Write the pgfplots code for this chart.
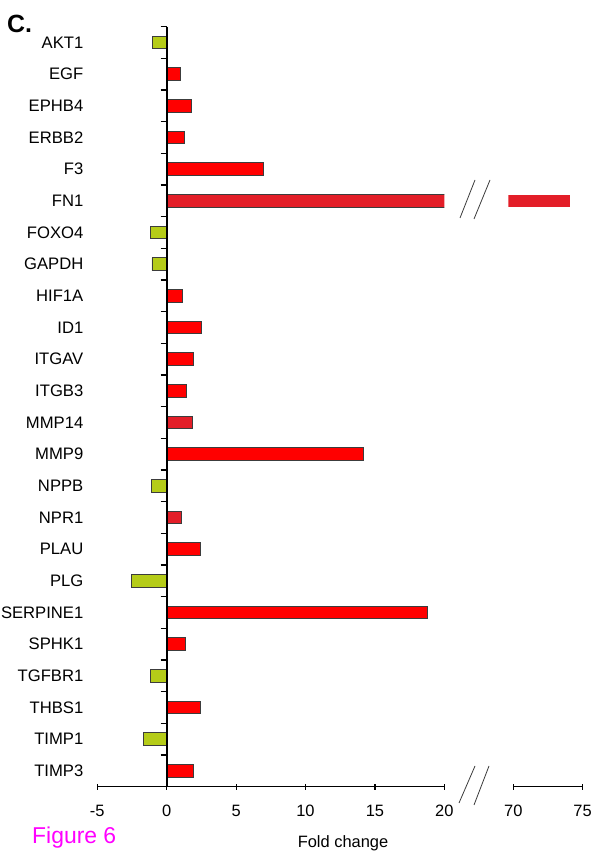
\documentclass[border=0pt]{standalone}
\usepackage{fontspec}
\setmainfont{Liberation Sans}
\usepackage{pgfplots}
\pgfplotsset{compat=1.18}

\definecolor{barred}{RGB}{255,0,0}
\definecolor{bardark}{RGB}{227,30,40}
\definecolor{bargreen}{RGB}{181,204,24}
\definecolor{edge}{RGB}{60,60,60}
\definecolor{figmag}{RGB}{255,0,255}

% genes top to bottom: 0 = AKT1 ... 23 = TIMP3
\pgfplotstableread{
x y
1.0 1
1.8 2
1.27 3
7.0 4
1.17 8
2.47 9
1.92 10
1.44 11
14.2 13
2.42 16
18.8 18
1.37 19
2.4 21
1.96 23
}\upred
\pgfplotstableread{
x y
74.1 5
1.85 12
1.06 15
}\updark
\pgfplotstableread{
x y
-1.04 0
-1.2 6
-1.06 7
-1.1 14
-2.54 17
-1.2 20
-1.68 22
}\down

\begin{document}
\begin{tikzpicture}
\useasboundingbox (-97.3bp,-67.3bp) rectangle (500.7bp,786.7bp);
\pgfplotsset{
  common/.style={
    scale only axis, height=760bp,
    ymin=-0.5, ymax=23.5, y dir=reverse,
    xbar, bar width=12.7bp, bar shift=0pt,
    /pgf/number format/assume math mode=true,
    tick align=outside, major tick length=6bp,
    every tick/.style={black, line width=1.2bp},
    tick label style={font=\fontsize{16.5}{18}\selectfont},
  },
}
\begin{axis}[common,
  name=main,
  width=347bp,
  xmin=-5, xmax=20,
  axis x line=bottom, axis y line=left,
  x axis line style={-, line width=1.3bp},
  y axis line style={draw=none},
  xtick={-5,0,5,10,15,20},
  xticklabel style={yshift=-12bp},
  ytick={0,...,23},
  ytick style={draw=none},
  yticklabels={AKT1,EGF,EPHB4,ERBB2,F3,FN1,FOXO4,GAPDH,HIF1A,ID1,ITGAV,ITGB3,MMP14,MMP9,NPPB,NPR1,PLAU,PLG,SERPINE1,SPHK1,TGFBR1,THBS1,TIMP1,TIMP3},
  yticklabel style={font=\fontsize{16.7}{19}\selectfont, inner sep=0pt, xshift=-10.8bp},
]
\addplot[fill=barred, draw=edge, line width=0.9bp] table {\upred};
\addplot[fill=bardark, draw=edge, line width=0.9bp] table {\updark};
\addplot[fill=bargreen, draw=edge, line width=0.9bp] table {\down};
\end{axis}

% y axis line at zero with ticks between genes
\begin{axis}[
  at={(69.4bp,0)}, scale only axis, width=10bp, height=760bp,
  xmin=0, xmax=1, ymin=-0.5, ymax=23.5, y dir=reverse,
  axis x line=none, axis y line=left,
  y axis line style={-, line width=2bp},
  ytick={-0.5,0.5,...,23.5}, yticklabels={},
  tick align=outside, major tick length=6bp,
  every tick/.style={black, line width=1.3bp},
]
\end{axis}

% right segment after the break
\begin{axis}[common,
  at={(411.1bp,0)},
  width=74.2bp,
  xmin=69.65, xmax=75,
  axis x line=bottom, axis y line=none,
  x axis line style={-, line width=1.3bp, shorten <=4.9bp},
  xtick={70,75},
  xticklabel style={yshift=-12bp},
  ytick=\empty,
]
\addplot[fill=bardark, draw=none] coordinates {(74.1,5)};
\end{axis}

% break marks
\draw[edge, line width=0.8bp] (361.7bp,-16.3bp) -- (377.7bp,20.7bp);
\draw[edge, line width=0.8bp] (376.7bp,-18.3bp) -- (391.7bp,20.7bp);
\draw[edge, line width=0.8bp] (362.7bp,568.7bp) -- (377.7bp,606.7bp);
\draw[edge, line width=0.8bp] (376.7bp,567.7bp) -- (392.7bp,606.7bp);

\node[anchor=base, inner sep=0pt, font=\fontsize{16.5}{18}\selectfont] at (245.7bp,-60.6bp) {Fold change};
\node[anchor=base west, inner sep=0pt, font=\fontsize{25}{28}\selectfont\bfseries] at (-90.3bp,753.7bp) {C.};
\node[anchor=base west, inner sep=0pt, text=figmag, font=\fontsize{23}{26}\selectfont] at (-65.3bp,-56.6bp) {Figure 6};
\end{tikzpicture}
\end{document}
